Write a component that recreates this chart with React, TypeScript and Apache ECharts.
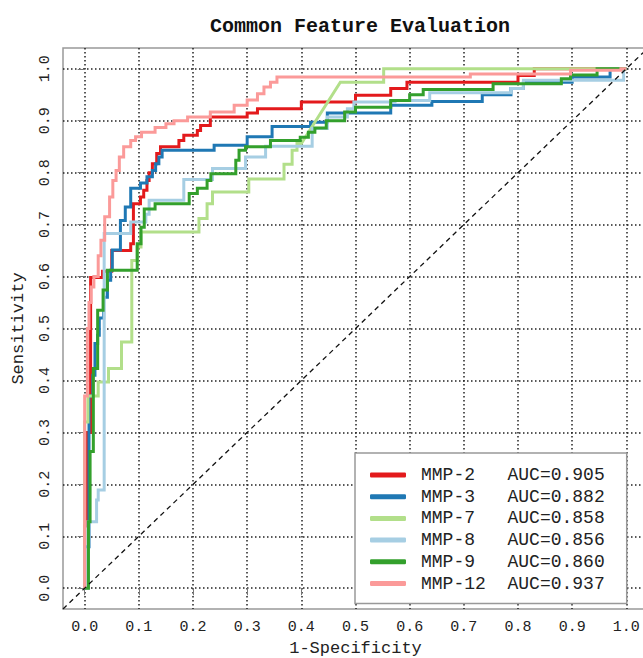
import { useEffect, useRef } from "react";
import * as echarts from "echarts";

const TITLE = "Common Feature Evaluation";
const X_NAME = "1-Specificity";
const Y_NAME = "Sensitivity";
const TICKS = [0, 0.1, 0.2, 0.3, 0.4, 0.5, 0.6, 0.7, 0.8, 0.9, 1.0];

const NAMES = ["MMP-2", "MMP-3", "MMP-7", "MMP-8", "MMP-9", "MMP-12"];
const AUCS = ["0.905", "0.882", "0.858", "0.856", "0.860", "0.937"];
const COLORS = ["#E31A1C", "#1F78B4", "#B2DF8A", "#A6CEE3", "#33A02C", "#FB9A99"];

// [1 - specificity, sensitivity]
const MMP2 = [
  [0, 0], [0, 0.12], [0.005, 0.12], [0.005, 0.3], [0.011, 0.3], [0.011, 0.598], [0.033, 0.598],
  [0.033, 0.61], [0.05, 0.61], [0.05, 0.65], [0.085, 0.65], [0.085, 0.663], [0.09, 0.663],
  [0.09, 0.74], [0.103, 0.74], [0.103, 0.753], [0.109, 0.753], [0.109, 0.766], [0.115, 0.766],
  [0.115, 0.785], [0.119, 0.785], [0.119, 0.8], [0.125, 0.8], [0.125, 0.817], [0.133, 0.817],
  [0.133, 0.837], [0.14, 0.837], [0.14, 0.85], [0.174, 0.85], [0.174, 0.862], [0.183, 0.862],
  [0.183, 0.872], [0.208, 0.872], [0.208, 0.881], [0.214, 0.881], [0.214, 0.891], [0.232, 0.891],
  [0.232, 0.907], [0.3, 0.907], [0.3, 0.915], [0.319, 0.915], [0.319, 0.923], [0.4, 0.923],
  [0.4, 0.936], [0.5, 0.936], [0.5, 0.949], [0.565, 0.949], [0.565, 0.962], [0.595, 0.962],
  [0.595, 0.974], [0.8, 0.974], [0.8, 0.987], [0.83, 0.987], [0.83, 1], [1, 1],
];

const MMP3 = [
  [0, 0], [0, 0.08], [0.008, 0.08], [0.008, 0.37], [0.015, 0.37], [0.015, 0.41], [0.019, 0.41],
  [0.019, 0.471], [0.024, 0.471], [0.024, 0.487], [0.027, 0.487], [0.027, 0.52], [0.035, 0.52],
  [0.035, 0.56], [0.042, 0.56], [0.042, 0.593], [0.048, 0.593], [0.048, 0.612], [0.051, 0.612],
  [0.051, 0.651], [0.066, 0.651], [0.066, 0.708], [0.075, 0.708], [0.075, 0.734], [0.085, 0.734],
  [0.085, 0.77], [0.103, 0.77], [0.103, 0.78], [0.115, 0.78], [0.115, 0.792], [0.125, 0.792],
  [0.125, 0.804], [0.131, 0.804], [0.131, 0.817], [0.137, 0.817], [0.137, 0.83], [0.143, 0.83],
  [0.143, 0.843], [0.239, 0.843], [0.239, 0.853], [0.3, 0.853], [0.3, 0.869], [0.346, 0.869],
  [0.346, 0.889], [0.417, 0.889], [0.417, 0.897], [0.448, 0.897], [0.448, 0.915], [0.565, 0.915],
  [0.565, 0.93], [0.641, 0.93], [0.641, 0.937], [0.734, 0.937], [0.734, 0.95], [0.787, 0.95],
  [0.787, 0.962], [0.81, 0.962], [0.81, 0.974], [0.9, 0.974], [0.9, 0.984], [0.97, 0.984],
  [0.97, 1], [1, 1],
];

const MMP7 = [
  [0, 0], [0, 0.32], [0.006, 0.32], [0.006, 0.37], [0.025, 0.37], [0.025, 0.397], [0.044, 0.397],
  [0.044, 0.423], [0.068, 0.423], [0.068, 0.474], [0.087, 0.474], [0.087, 0.631], [0.097, 0.631],
  [0.097, 0.657], [0.104, 0.657], [0.104, 0.686], [0.211, 0.686], [0.211, 0.712], [0.226, 0.712],
  [0.226, 0.74], [0.236, 0.74], [0.236, 0.763], [0.303, 0.763], [0.303, 0.788], [0.368, 0.788],
  [0.368, 0.816], [0.383, 0.816], [0.383, 0.843], [0.392, 0.843], [0.392, 0.856], [0.4, 0.856],
  [0.472, 0.974], [0.552, 0.974], [0.552, 1], [1, 1],
];

const MMP8 = [
  [0, 0], [0.006, 0], [0.006, 0.128], [0.022, 0.128], [0.022, 0.17], [0.025, 0.17], [0.025, 0.189],
  [0.036, 0.189], [0.036, 0.683], [0.085, 0.683], [0.085, 0.705], [0.113, 0.705], [0.113, 0.72],
  [0.119, 0.72], [0.119, 0.747], [0.183, 0.747], [0.183, 0.787], [0.236, 0.787], [0.236, 0.808],
  [0.297, 0.808], [0.297, 0.83], [0.334, 0.83], [0.334, 0.851], [0.42, 0.851], [0.42, 0.885],
  [0.448, 0.885], [0.448, 0.907], [0.485, 0.907], [0.485, 0.923], [0.497, 0.923], [0.497, 0.936],
  [0.573, 0.936], [0.573, 0.939], [0.637, 0.939], [0.637, 0.954], [0.787, 0.954], [0.787, 0.962],
  [0.81, 0.962], [0.81, 0.978], [0.995, 0.978], [0.995, 1], [1, 1],
];

const MMP9 = [
  [0, 0], [0.007, 0], [0.007, 0.128], [0.01, 0.128], [0.01, 0.263], [0.016, 0.263], [0.016, 0.423],
  [0.024, 0.423], [0.024, 0.535], [0.034, 0.535], [0.034, 0.574], [0.042, 0.574], [0.042, 0.612],
  [0.097, 0.612], [0.097, 0.663], [0.104, 0.663], [0.104, 0.695], [0.11, 0.695], [0.11, 0.73],
  [0.13, 0.73], [0.13, 0.74], [0.193, 0.74], [0.193, 0.76], [0.208, 0.76], [0.208, 0.77],
  [0.226, 0.77], [0.226, 0.785], [0.233, 0.785], [0.233, 0.798], [0.279, 0.798], [0.279, 0.824],
  [0.285, 0.824], [0.285, 0.843], [0.297, 0.843], [0.297, 0.85], [0.343, 0.85], [0.343, 0.862],
  [0.398, 0.862], [0.398, 0.868], [0.413, 0.868], [0.413, 0.878], [0.425, 0.878], [0.425, 0.886],
  [0.446, 0.886], [0.446, 0.9], [0.48, 0.9], [0.48, 0.917], [0.5, 0.917], [0.5, 0.926],
  [0.565, 0.926], [0.565, 0.939], [0.6, 0.939], [0.6, 0.95], [0.625, 0.95], [0.625, 0.96],
  [0.754, 0.96], [0.754, 0.971], [0.88, 0.971], [0.88, 0.981], [0.897, 0.981], [0.897, 0.988],
  [0.946, 0.988], [0.946, 1], [1, 1],
];

const MMP12 = [
  [0, 0], [0, 0.37], [0.005, 0.37], [0.005, 0.5], [0.008, 0.5], [0.008, 0.55], [0.012, 0.55],
  [0.012, 0.58], [0.017, 0.58], [0.017, 0.6], [0.025, 0.6], [0.025, 0.64], [0.03, 0.64],
  [0.03, 0.67], [0.037, 0.67], [0.037, 0.715], [0.046, 0.715], [0.046, 0.753], [0.052, 0.753],
  [0.052, 0.785], [0.058, 0.785], [0.058, 0.804], [0.064, 0.804], [0.064, 0.83], [0.072, 0.83],
  [0.072, 0.85], [0.085, 0.85], [0.085, 0.862], [0.094, 0.862], [0.094, 0.869], [0.105, 0.869],
  [0.105, 0.878], [0.13, 0.878], [0.13, 0.887], [0.15, 0.887], [0.15, 0.894], [0.165, 0.894],
  [0.165, 0.9], [0.19, 0.9], [0.19, 0.907], [0.232, 0.907], [0.232, 0.917], [0.276, 0.917],
  [0.276, 0.93], [0.3, 0.93], [0.3, 0.94], [0.319, 0.94], [0.319, 0.952], [0.331, 0.952],
  [0.331, 0.965], [0.343, 0.965], [0.343, 0.974], [0.355, 0.974], [0.355, 0.984], [0.712, 0.984],
  [0.712, 0.99], [0.897, 0.99], [0.897, 0.997], [0.99, 0.997], [0.99, 1], [1, 1],
];

const CURVES = [MMP2, MMP3, MMP7, MMP8, MMP9, MMP12];
const DIAGONAL = [[-0.04, -0.04], [1.04, 1.04]];
const AXIS_MIN = -0.04;
const AXIS_MAX = 1.04;

const FONT = '"Liberation Mono", "DejaVu Sans Mono", monospace';

export default function App() {
  const ref = useRef<HTMLDivElement>(null);

  useEffect(() => {
    if (!ref.current) return;
    const chart = echarts.init(ref.current, null, { renderer: "svg" });

    const curveSeries = CURVES.map((d, i) => ({
      name: NAMES[i],
      type: "line",
      data: d,
      symbol: "none",
      showSymbol: false,
      lineStyle: { color: COLORS[i], width: 3, cap: "butt", join: "miter" },
      itemStyle: { color: COLORS[i] },
      z: 3,
    }));

    const tickCommon = {
      show: true,
      customValues: TICKS,
      length: 7,
      lineStyle: { color: "#777", width: 1 },
    };
    const splitCommon = {
      show: true,
      lineStyle: { color: "#222", width: 1.5, type: [1.5, 2.5] },
    };

    chart.setOption({
      animation: false,
      backgroundColor: "#fff",
      title: {
        text: TITLE,
        left: 355,
        top: 11,
        textAlign: "center",
        textStyle: { fontFamily: FONT, fontWeight: "bold", fontSize: 20, color: "#111" },
      },
      grid: {
        left: 63,
        top: 48,
        width: 585,
        height: 561,
        show: true,
        borderColor: "#999",
        borderWidth: 1.5,
        backgroundColor: "transparent",
        outerBoundsMode: "none",
      },
      legend: {
        data: NAMES,
        orient: "vertical",
        left: 355,
        top: 453,
        padding: [13, 22, 11, 15],
        itemGap: 3.7,
        itemWidth: 36,
        itemHeight: 5,
        icon: "roundRect",
        backgroundColor: "#fff",
        borderColor: "#999",
        borderWidth: 1.5,
        selectedMode: false,
        z: 20,
        formatter: (name: string) => {
          const i = NAMES.indexOf(name);
          return `{n|${name}}{v|AUC=${AUCS[i]}}`;
        },
        textStyle: {
          fontFamily: FONT,
          fontSize: 18,
          color: "#222",
          padding: [0, 0, 0, 10],
          rich: {
            n: { fontFamily: FONT, fontSize: 18, color: "#222", width: 86.5 },
            v: { fontFamily: FONT, fontSize: 18, color: "#222" },
          },
        },
      },
      xAxis: {
        type: "value",
        min: AXIS_MIN,
        max: AXIS_MAX,
        axisLine: { show: false },
        axisTick: tickCommon,
        axisLabel: {
          customValues: TICKS,
          formatter: (v: number) => v.toFixed(1),
          fontFamily: FONT,
          fontSize: 15,
          color: "#222",
          margin: 11,
        },
        splitLine: splitCommon,
        name: X_NAME,
        nameLocation: "middle",
        nameGap: 31,
        nameTextStyle: { fontFamily: FONT, fontSize: 17, color: "#222", lineHeight: 17 },
      },
      yAxis: {
        type: "value",
        min: AXIS_MIN,
        max: AXIS_MAX,
        axisLine: { show: false },
        axisTick: tickCommon,
        axisLabel: {
          customValues: TICKS,
          formatter: (v: number) => v.toFixed(1),
          rotate: 90,
          fontFamily: FONT,
          fontSize: 15,
          color: "#222",
          margin: 10,
        },
        splitLine: splitCommon,
        name: Y_NAME,
        nameLocation: "middle",
        nameGap: 36,
        nameTextStyle: { fontFamily: FONT, fontSize: 17, color: "#222" },
      },
      series: [
        ...curveSeries,
        {
          type: "line",
          data: DIAGONAL,
          symbol: "none",
          silent: true,
          lineStyle: { color: "#111", width: 1.3, type: [5, 4] },
          z: 4,
        },
      ],
    });

    return () => chart.dispose();
  }, []);

  return (
    <div
      ref={ref}
      style={{ position: "fixed", left: 0, top: 0, width: 643, height: 658, background: "#fff" }}
    />
  );
}
